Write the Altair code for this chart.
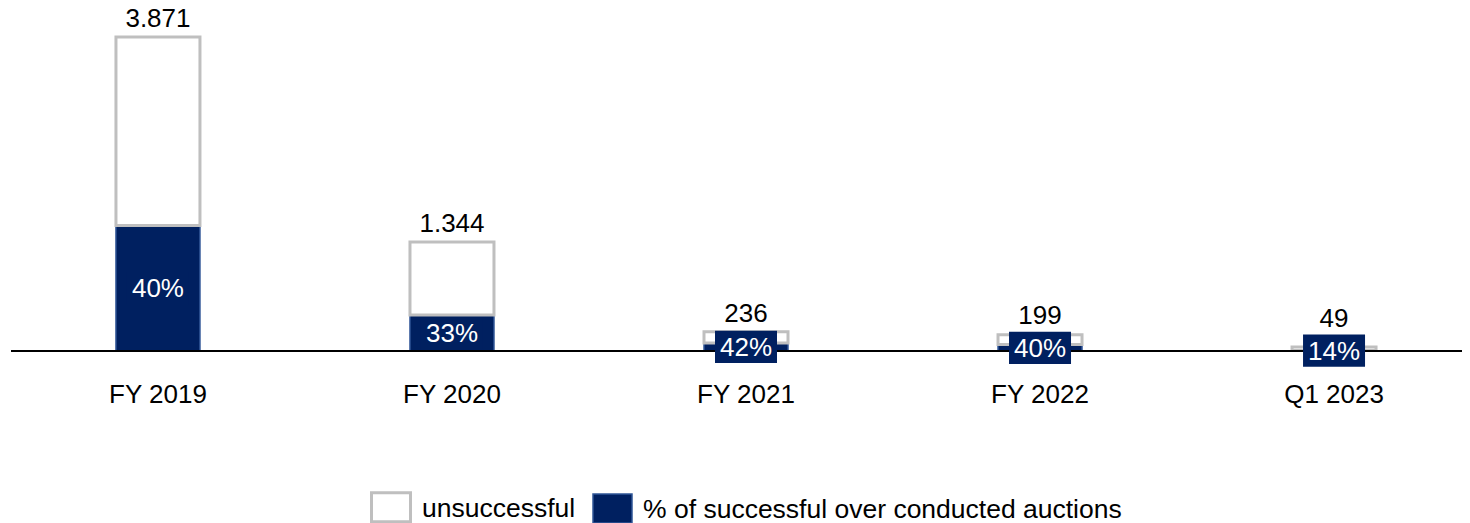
import altair as alt
import pandas as pd

# ---- data ----
categories = ["FY 2019", "FY 2020", "FY 2021", "FY 2022", "Q1 2023"]
totals = [3871, 1344, 236, 199, 49]
success_pct = [40, 33, 42, 40, 14]
series_names = ["unsuccessful", "% of successful over conducted auctions"]

NAVY = "#002060"
NAVY_EDGE = "#2F5597"
GRAY = "#BFBFBF"
FONT = "Liberation Sans"

W, H = 1451, 341
PAD_L = 3
YMAX = 4204
BOX_HALF_PX = 14
px_to_val = YMAX / H

rows = []
for c, t, p in zip(categories, totals, success_pct):
    rows.append(dict(cat=c, series=series_names[1], y0=0.0, y1=t * p / 100.0))
for c, t, p in zip(categories, totals, success_pct):
    rows.append(dict(cat=c, series=series_names[0], y0=t * p / 100.0, y1=float(t)))
bars_df = pd.DataFrame(rows)

lab_df = pd.DataFrame(dict(
    cat=categories,
    total=totals,
    mid=[t * p / 200.0 for t, p in zip(totals, success_pct)],
    pct=[f"{p}%" for p in success_pct],
    tot_lab=[f"{t:,}".replace(",", ".") for t in totals],
))

xscale = alt.Scale(domain=categories, range=[0, 1470], paddingInner=0.7143, paddingOuter=0.357)
yscale = alt.Scale(domain=[0, YMAX], nice=False, zero=True)

x_enc = alt.X("cat:N", scale=xscale, sort=categories,
              axis=alt.Axis(title=None, domain=False, ticks=False, tickSize=0,
                            labelFontSize=26, labelPadding=30, labelAngle=0,
                            labelColor="black", labelFont=FONT))

legend = alt.Legend(orient="none", legendX=359, legendY=478, direction="horizontal",
                    title=None, symbolType="M-1,-0.844H1V0.644H-1Z", symbolSize=1521,
                    symbolStrokeWidth=3, labelFontSize=26.5, labelOffset=10,
                    columnPadding=14, padding=0, labelColor="black", labelFont=FONT,
                    labelLimit=0)

bars = alt.Chart(bars_df).mark_bar(size=84, opacity=1).encode(
    x=x_enc,
    y=alt.Y("y0:Q", scale=yscale, axis=None),
    y2="y1:Q",
    fill=alt.Fill("series:N", scale=alt.Scale(domain=series_names, range=["white", NAVY]), legend=legend),
    stroke=alt.Stroke("series:N", scale=alt.Scale(domain=series_names, range=[GRAY, NAVY_EDGE]), legend=legend),
    strokeWidth=alt.StrokeWidth("series:N", scale=alt.Scale(domain=series_names, range=[3, 1.5]), legend=None),
)

rule = alt.Chart(pd.DataFrame({"v": [0]})).mark_rule(color="black", strokeWidth=2).encode(
    y=alt.Y("v:Q", scale=yscale, axis=None),
    x=alt.value(0),
    x2=alt.value(W),
)

boxes = alt.Chart(lab_df).mark_point(
    shape="M-1,-0.52H1V0.52H-1Z", size=3844, filled=True, color=NAVY, opacity=1, strokeWidth=0
).encode(
    x=x_enc,
    y=alt.Y("mid:Q", scale=yscale, axis=None),
)

pct_text = alt.Chart(lab_df).mark_text(
    color="white", fontSize=26, font=FONT, baseline="middle", align="center", dy=1
).encode(
    x=x_enc,
    y=alt.Y("mid:Q", scale=yscale, axis=None),
    text="pct:N",
)

tot_text = alt.Chart(lab_df).transform_calculate(
    anchor=f"max(datum.total, datum.mid + {BOX_HALF_PX * px_to_val})"
).mark_text(
    color="black", fontSize=26, font=FONT, baseline="alphabetic", align="center", dy=-10
).encode(
    x=x_enc,
    y=alt.Y("anchor:Q", scale=yscale, axis=None),
    text="tot_lab:N",
)

chart = alt.layer(bars, rule, boxes, pct_text, tot_text).properties(
    width=W, height=H,
    padding={"left": PAD_L, "top": 2, "right": 0, "bottom": 172},
    autosize=alt.AutoSizeParams(type="none"),
    background="white",
).configure(font=FONT).configure_view(stroke=None)

chart.save("out.html", embed_options={"renderer": "svg", "actions": False})
